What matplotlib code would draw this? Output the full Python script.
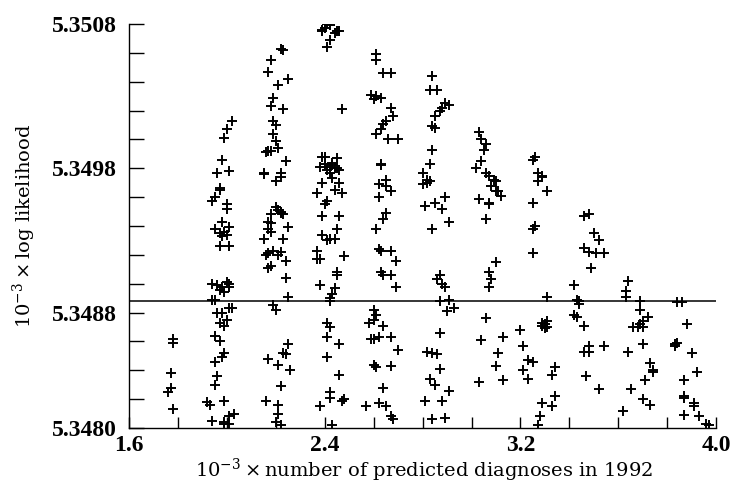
import matplotlib
matplotlib.use("Agg")
import matplotlib.pyplot as plt
import numpy as np

plt.rcParams['font.family'] = 'DejaVu Serif'
plt.rcParams['mathtext.fontset'] = 'dejavuserif'

# points, one list per column of runs
# (10^-3 x predicted diagnoses, 10^-3 x log likelihood)
col_18 = [(1.78, 5.34862), (1.78, 5.34859), (1.77, 5.34838), (1.77, 5.34828),
          (1.76, 5.34825), (1.78, 5.34813)]

col_20 = [(2.02, 5.35013), (2.00, 5.35007), (1.99, 5.35001), (1.98, 5.34986),
          (1.96, 5.34977), (2.01, 5.34978), (1.97, 5.34966), (1.97, 5.34965),
          (1.95, 5.34960), (1.94, 5.34957), (2.00, 5.34955), (2.00, 5.34952),
          (1.98, 5.34943), (1.95, 5.34938), (2.01, 5.34939), (1.97, 5.34935),
          (1.98, 5.34933), (2.00, 5.34934), (1.99, 5.34936), (1.97, 5.34926),
          (2.01, 5.34926), (1.94, 5.34900), (1.96, 5.34899), (1.98, 5.34898),
          (2.00, 5.34901), (2.01, 5.34898), (1.97, 5.34896), (1.99, 5.34894),
          (2.01, 5.34900), (1.94, 5.34889), (1.95, 5.34889), (2.01, 5.34883),
          (2.02, 5.34883), (1.96, 5.34880), (1.98, 5.34880), (2.00, 5.34875),
          (1.97, 5.34873), (1.99, 5.34871), (1.95, 5.34864), (1.97, 5.34860),
          (1.99, 5.34852), (1.98, 5.34849), (1.95, 5.34846), (1.96, 5.34836),
          (1.95, 5.34830), (1.92, 5.34818), (1.93, 5.34816), (1.99, 5.34819),
          (2.03, 5.34810), (2.01, 5.34808), (1.94, 5.34805), (1.99, 5.34804),
          (2.01, 5.34803), (1.99, 5.34803)]

col_22 = [(2.22, 5.35063), (2.23, 5.35062), (2.18, 5.35055), (2.17, 5.35047),
          (2.25, 5.35042), (2.21, 5.35038), (2.19, 5.35029), (2.18, 5.35023),
          (2.23, 5.35021), (2.19, 5.35013), (2.20, 5.35010), (2.19, 5.35004),
          (2.20, 5.34999), (2.21, 5.34994), (2.18, 5.34992), (2.16, 5.34991),
          (2.17, 5.34992), (2.24, 5.34985), (2.15, 5.34976), (2.15, 5.34977),
          (2.22, 5.34977), (2.22, 5.34974), (2.20, 5.34971), (2.20, 5.34953),
          (2.21, 5.34951), (2.22, 5.34950), (2.22, 5.34949), (2.23, 5.34948),
          (2.18, 5.34948), (2.17, 5.34943), (2.18, 5.34942), (2.25, 5.34939),
          (2.17, 5.34938), (2.18, 5.34936), (2.23, 5.34931), (2.15, 5.34931),
          (2.17, 5.34921), (2.19, 5.34923), (2.22, 5.34922), (2.21, 5.34920),
          (2.24, 5.34916), (2.16, 5.34920), (2.18, 5.34912), (2.17, 5.34911),
          (2.24, 5.34904), (2.25, 5.34891), (2.19, 5.34885), (2.20, 5.34882),
          (2.25, 5.34858), (2.23, 5.34852), (2.24, 5.34851), (2.17, 5.34848),
          (2.21, 5.34844), (2.26, 5.34840), (2.22, 5.34829), (2.16, 5.34819),
          (2.21, 5.34816), (2.21, 5.34810), (2.20, 5.34804), (2.22, 5.34802)]

col_24 = [(2.41, 5.35080), (2.42, 5.35079), (2.40, 5.35077), (2.39, 5.35075),
          (2.39, 5.35076), (2.45, 5.35075), (2.44, 5.35074), (2.46, 5.35075),
          (2.42, 5.35069), (2.41, 5.35064), (2.47, 5.35021),
          (2.39, 5.34988), (2.40, 5.34988), (2.45, 5.34987), (2.38, 5.34981),
          (2.42, 5.34981), (2.43, 5.34982), (2.41, 5.34979), (2.44, 5.34980),
          (2.42, 5.34977), (2.43, 5.34984), (2.45, 5.34980), (2.40, 5.34983),
          (2.46, 5.34979), (2.39, 5.34970), (2.43, 5.34973), (2.46, 5.34970),
          (2.37, 5.34963), (2.44, 5.34965), (2.47, 5.34963), (2.41, 5.34957),
          (2.40, 5.34955), (2.39, 5.34947), (2.46, 5.34947), (2.45, 5.34938),
          (2.39, 5.34934), (2.42, 5.34931), (2.44, 5.34931), (2.41, 5.34930),
          (2.37, 5.34923), (2.38, 5.34917), (2.37, 5.34917), (2.48, 5.34919),
          (2.45, 5.34908), (2.45, 5.34906), (2.38, 5.34899), (2.44, 5.34897),
          (2.43, 5.34893), (2.42, 5.34890), (2.42, 5.34888),
          (2.41, 5.34873), (2.42, 5.34870), (2.41, 5.34863), (2.46, 5.34858),
          (2.41, 5.34849), (2.46, 5.34837), (2.42, 5.34825), (2.42, 5.34821),
          (2.47, 5.34819), (2.48, 5.34820), (2.38, 5.34815), (2.43, 5.34802)]

col_26 = [(2.61, 5.35059), (2.61, 5.35055), (2.64, 5.35046), (2.67, 5.35046),
          (2.59, 5.35031), (2.61, 5.35030), (2.63, 5.35029), (2.60, 5.35028),
          (2.67, 5.35022), (2.68, 5.35016), (2.65, 5.35013), (2.64, 5.35011),
          (2.63, 5.35007), (2.61, 5.35004), (2.66, 5.35000), (2.70, 5.35000),
          (2.63, 5.34983), (2.63, 5.34982), (2.62, 5.34969), (2.65, 5.34972),
          (2.65, 5.34968), (2.67, 5.34964), (2.62, 5.34960), (2.65, 5.34949),
          (2.64, 5.34945), (2.61, 5.34938), (2.62, 5.34924), (2.63, 5.34923),
          (2.67, 5.34923), (2.69, 5.34916), (2.63, 5.34908), (2.64, 5.34906),
          (2.67, 5.34906), (2.69, 5.34898),
          (2.60, 5.34882), (2.61, 5.34878), (2.60, 5.34875), (2.58, 5.34873),
          (2.64, 5.34871), (2.59, 5.34862), (2.60, 5.34862), (2.62, 5.34863),
          (2.67, 5.34863), (2.70, 5.34854), (2.60, 5.34844), (2.61, 5.34842),
          (2.67, 5.34843), (2.64, 5.34828), (2.57, 5.34815), (2.62, 5.34817),
          (2.65, 5.34815), (2.67, 5.34808), (2.68, 5.34806)]

col_28 = [(2.84, 5.35044), (2.83, 5.35034), (2.86, 5.35034), (2.89, 5.35025),
          (2.91, 5.35024), (2.88, 5.35022), (2.87, 5.35020), (2.85, 5.35016),
          (2.84, 5.35009), (2.85, 5.35008), (2.84, 5.34993), (2.83, 5.34983),
          (2.80, 5.34977), (2.82, 5.34972), (2.83, 5.34971), (2.82, 5.34970),
          (2.80, 5.34969), (2.81, 5.34954), (2.85, 5.34956), (2.88, 5.34952),
          (2.89, 5.34960), (2.91, 5.34943), (2.84, 5.34938),
          (2.87, 5.34906), (2.86, 5.34903), (2.88, 5.34900), (2.89, 5.34898),
          (2.87, 5.34888), (2.91, 5.34889), (2.90, 5.34881), (2.93, 5.34883),
          (2.87, 5.34866), (2.82, 5.34853), (2.84, 5.34852), (2.86, 5.34851),
          (2.87, 5.34841), (2.83, 5.34834), (2.85, 5.34830), (2.91, 5.34826),
          (2.88, 5.34819), (2.81, 5.34819), (2.84, 5.34806), (2.89, 5.34807)]

col_30 = [(3.03, 5.35005), (3.04, 5.35000), (3.06, 5.34997), (3.05, 5.34993),
          (3.04, 5.34985), (3.02, 5.34980), (3.06, 5.34977), (3.07, 5.34975),
          (3.09, 5.34972), (3.10, 5.34971), (3.08, 5.34968), (3.10, 5.34964),
          (3.11, 5.34964), (3.12, 5.34961), (3.03, 5.34959), (3.07, 5.34956),
          (3.07, 5.34955), (3.06, 5.34945),
          (3.10, 5.34915), (3.07, 5.34908), (3.08, 5.34903), (3.07, 5.34898),
          (3.06, 5.34876), (3.04, 5.34861), (3.13, 5.34863), (3.11, 5.34852),
          (3.10, 5.34843), (3.13, 5.34833), (3.03, 5.34832)]

col_32 = [(3.25, 5.34986), (3.26, 5.34988), (3.27, 5.34977), (3.29, 5.34974),
          (3.29, 5.34975), (3.27, 5.34971), (3.31, 5.34964), (3.25, 5.34956),
          (3.26, 5.34940), (3.25, 5.34938), (3.25, 5.34921), (3.31, 5.34891),
          (3.29, 5.34873), (3.31, 5.34874), (3.29, 5.34871), (3.31, 5.34870),
          (3.30, 5.34869), (3.30, 5.34872),
          (3.20, 5.34868), (3.21, 5.34857), (3.23, 5.34847), (3.25, 5.34846),
          (3.21, 5.34840), (3.23, 5.34834), (3.34, 5.34842), (3.33, 5.34837),
          (3.34, 5.34822), (3.29, 5.34817), (3.33, 5.34815), (3.28, 5.34808),
          (3.27, 5.34802)]

col_34 = [(3.46, 5.34947), (3.48, 5.34948), (3.50, 5.34935), (3.52, 5.34930),
          (3.46, 5.34925), (3.48, 5.34922), (3.51, 5.34921), (3.54, 5.34921),
          (3.49, 5.34911), (3.42, 5.34899), (3.43, 5.34889), (3.44, 5.34886),
          (3.44, 5.34888), (3.42, 5.34878), (3.43, 5.34877), (3.46, 5.34871),
          (3.46, 5.34853), (3.48, 5.34853), (3.48, 5.34857), (3.54, 5.34857),
          (3.47, 5.34836), (3.52, 5.34827)]

col_36 = [(3.64, 5.34902), (3.63, 5.34895), (3.63, 5.34891), (3.69, 5.34888),
          (3.69, 5.34882), (3.72, 5.34877), (3.70, 5.34874), (3.68, 5.34870),
          (3.69, 5.34872), (3.66, 5.34870), (3.70, 5.34870), (3.70, 5.34858),
          (3.64, 5.34853), (3.73, 5.34845), (3.74, 5.34840), (3.74, 5.34839),
          (3.71, 5.34833), (3.65, 5.34827), (3.70, 5.34820), (3.73, 5.34816),
          (3.62, 5.34812)]

col_38 = [(3.84, 5.34887), (3.86, 5.34887), (3.88, 5.34872), (3.83, 5.34858),
          (3.84, 5.34859), (3.83, 5.34857), (3.90, 5.34852), (3.92, 5.34839),
          (3.87, 5.34833), (3.87, 5.34822), (3.87, 5.34821), (3.91, 5.34815),
          (3.91, 5.34817), (3.87, 5.34809), (3.93, 5.34808), (3.96, 5.34803),
          (3.97, 5.34802)]

columns = [col_18, col_20, col_22, col_24, col_26, col_28, col_30, col_32,
           col_34, col_36, col_38]

cutoff = 5.34888  # horizontal reference line

x_ticks = [1.6, 1.8, 2.0, 2.2, 2.4, 2.6, 2.8, 3.0, 3.2, 3.4, 3.6, 3.8, 4.0]
x_labelled = [1.6, 2.4, 3.2, 4.0]
y_ticks = [5.3480, 5.3482, 5.3484, 5.3486, 5.3488, 5.3490, 5.3492, 5.3494,
           5.3496, 5.3498, 5.3500, 5.3502, 5.3504, 5.3506, 5.3508]
y_labelled = [5.3480, 5.3488, 5.3498, 5.3508]

fig = plt.figure(figsize=(7.33, 4.86), dpi=100)
ax = fig.add_axes([0.176, 0.1193, 0.801, 0.8313])

for col in columns:
    pts = np.array(col)
    ax.plot(pts[:, 0], pts[:, 1], '+', color='black', ms=7, mew=1.4)

ax.axhline(cutoff, color='black', lw=1.1)

ax.set_xlim(1.6, 4.0)
ax.set_ylim(5.3480, 5.3508)
ax.spines['top'].set_visible(False)
ax.spines['right'].set_visible(False)
ax.spines['left'].set_linewidth(1.0)
ax.spines['bottom'].set_linewidth(1.0)

ax.set_xticks(x_ticks)
ax.set_xticklabels([('%.1f' % t) if t in x_labelled else '' for t in x_ticks])
ax.set_yticks(y_ticks)
ax.set_yticklabels([('%.4f' % t) if t in y_labelled else '' for t in y_ticks])
ax.tick_params(axis='y', direction='in', length=11, width=1.0, pad=9)
ax.tick_params(axis='x', direction='in', length=8, width=1.0, pad=5)
for lab in ax.get_xticklabels() + ax.get_yticklabels():
    lab.set_fontfamily('Liberation Serif')
    lab.set_fontweight('bold')
    lab.set_fontsize(17)

fig.text(24 / 733, 1 - 226 / 486, r'$10^{-3}\times$log likelihood',
         rotation=90, ha='center', va='center', fontsize=14)
fig.text(424 / 733, 1 - 477 / 486,
         r'$10^{-3}\times$number of predicted diagnoses in 1992',
         ha='center', va='baseline', fontsize=14)

fig.savefig('out.png', dpi=100)
